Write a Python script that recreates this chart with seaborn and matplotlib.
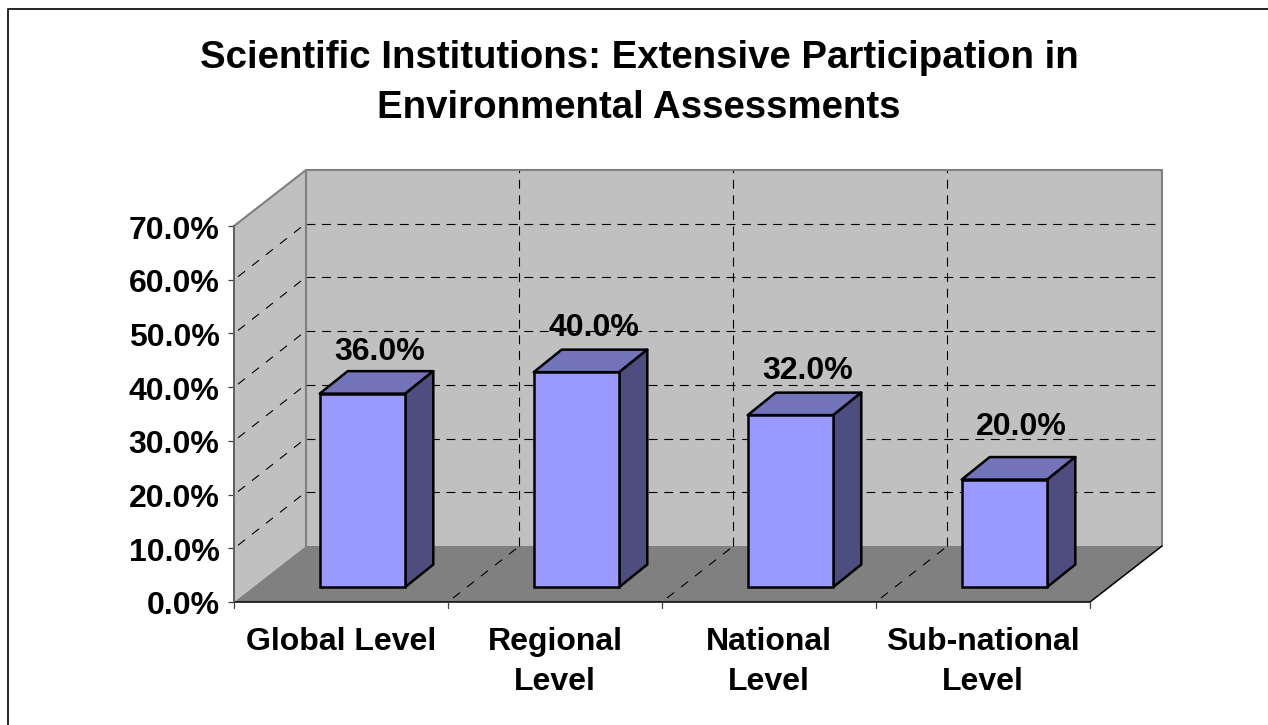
import numpy as np
import pandas as pd
import matplotlib
matplotlib.use("Agg")
import matplotlib.pyplot as plt
from matplotlib.lines import Line2D
from matplotlib.patches import Polygon
from matplotlib.transforms import ScaledTranslation
import seaborn as sns

categories = ["Global Level", "Regional\nLevel", "National\nLevel", "Sub-national\nLevel"]
values = [36.0, 40.0, 32.0, 20.0]
y_ticks = [0, 10, 20, 30, 40, 50, 60, 70]

W, H = 1268, 725
DPI = 100
# front plane of the chart box, in pixels
LEFT, RIGHT, BOTTOM, TOP = 234, 1090, 602, 226
DEPTH_X, DEPTH_Y = 72, 56      # wall depth
BAR_X, BAR_Y = 21.5, 15        # bar front face offset from front plane
BAR_DX, BAR_DY = 28, 22.5      # bar depth
label_lift = [27, 29, 29, 38]  # excel puts the value labels unevenly

sns.set_theme(style="white")
plt.rcParams["font.family"] = ["Liberation Sans", "DejaVu Sans"]

df = pd.DataFrame({"level": categories, "share": values})

fig = plt.figure(figsize=(W / DPI, H / DPI), dpi=DPI)
ax = fig.add_axes([LEFT / W, 1 - BOTTOM / H, (RIGHT - LEFT) / W, (BOTTOM - TOP) / H])
sns.barplot(data=df, x="level", y="share", color="#9999FF", width=0.4, saturation=1,
            edgecolor="black", linewidth=1.8, ax=ax, zorder=5)
ax.set_xlim(-0.5, 3.5)
ax.set_ylim(0, 70)
ax.patch.set_alpha(0)
ax.set_xlabel("")
ax.set_ylabel("")
for s in ax.spines.values():
    s.set_visible(False)


def shifted(px, py):
    # data transform moved by some pixels on the figure
    return ax.transData + ScaledTranslation(px / DPI, py / DPI, fig.dpi_scale_trans)


def poly(points, trans, **kw):
    p = Polygon(points, closed=True, transform=trans, clip_on=False, **kw)
    ax.add_patch(p)
    return p


x0, x1 = ax.get_xlim()
y0, y1 = ax.get_ylim()
front = shifted(0, 0)
to_px = ax.transData.transform


def skew(x, y, px, py):
    # point of the front plane moved px, py pixels, back in data units
    a = to_px((x, y)) + np.array([px, py])
    return ax.transData.inverted().transform(a)


# walls and floor
poly([(x0, y0), skew(x0, y0, DEPTH_X, DEPTH_Y), skew(x0, y1, DEPTH_X, DEPTH_Y), (x0, y1)], front,
     facecolor="#C0C0C0", edgecolor="none", zorder=1)
poly([skew(x0, y0, DEPTH_X, DEPTH_Y), skew(x1, y0, DEPTH_X, DEPTH_Y),
      skew(x1, y1, DEPTH_X, DEPTH_Y), skew(x0, y1, DEPTH_X, DEPTH_Y)], front,
     facecolor="#C0C0C0", edgecolor="none", zorder=1)
poly([(x0, y0), (x1, y0), skew(x1, y0, DEPTH_X, DEPTH_Y), skew(x0, y0, DEPTH_X, DEPTH_Y)], front,
     facecolor="#808080", edgecolor="none", zorder=1.5)

# dashed grid on both walls and the floor
dash = dict(color="black", lw=0.8, clip_on=False, zorder=2)
for t in y_ticks[1:-1]:
    a = skew(x0, t, 4, 3)
    b = skew(x0, t, DEPTH_X - 3, DEPTH_Y - 2)
    ax.plot([a[0], b[0]], [a[1], b[1]], dashes=(8, 8), **dash)
    a = skew(x0, t, DEPTH_X, DEPTH_Y)
    b = skew(x1, t, DEPTH_X, DEPTH_Y)
    ax.plot([a[0], b[0]], [a[1], b[1]], dashes=(8, 6), **dash)
for i in range(1, len(categories)):
    xc = x0 + i
    a = skew(xc, y0, 5, 4)
    b = skew(xc, y0, DEPTH_X - 3, DEPTH_Y - 2)
    ax.plot([a[0], b[0]], [a[1], b[1]], dashes=(8, 8), **dash)
    a = skew(xc, y0, DEPTH_X - 1, DEPTH_Y)
    b = skew(xc, y1, DEPTH_X - 1, DEPTH_Y)
    ax.plot([a[0], b[0]], [a[1], b[1]], dashes=(8, 6), **dash)

# gray edges of the walls go over the grid
edge = dict(color="#808080", lw=1.5, clip_on=False, zorder=2.5)
bl = skew(x0, y0, DEPTH_X, DEPTH_Y)
tl = skew(x0, y1, DEPTH_X, DEPTH_Y)
tr = skew(x1, y1, DEPTH_X, DEPTH_Y)
br = skew(x1, y0, DEPTH_X, DEPTH_Y)
ax.plot([x0, tl[0], tr[0], br[0]], [y1, tl[1], tr[1], br[1]], **edge)
ax.plot([bl[0], tl[0]], [bl[1], tl[1]], **edge)
ax.plot([x0, x1, br[0]], [y0, y0, br[1]], color="black", lw=1.1, clip_on=False, zorder=2.6)

# 3d bars, built from the seaborn patches
bar_trans = shifted(BAR_X, BAR_Y)
for bar, val, lift in zip(ax.patches[:len(values)], values, label_lift):
    bar.set_transform(bar_trans)
    bar.set_clip_on(False)
    bx0, bx1 = bar.get_x(), bar.get_x() + bar.get_width()
    poly([(bx0, val), (bx1, val), skew(bx1, val, BAR_DX, BAR_DY), skew(bx0, val, BAR_DX, BAR_DY)],
         bar_trans, facecolor="#7373B9", edgecolor="black", linewidth=1.8, joinstyle="round", zorder=4)
    poly([(bx1, 0), skew(bx1, 0, BAR_DX, BAR_DY), skew(bx1, val, BAR_DX, BAR_DY), (bx1, val)],
         bar_trans, facecolor="#4D4D7F", edgecolor="black", linewidth=1.8, joinstyle="round", zorder=4)
    tx = (bx0 + bx1) / 2
    ax.annotate(f"{val:.1f}%", xy=(tx, val), xycoords=bar_trans, xytext=(17, lift), textcoords="offset pixels",
                ha="center", va="bottom", fontsize=23, fontweight="bold", color="black", zorder=6,
                annotation_clip=False)

# ticks and labels
ax.set_yticks(y_ticks)
ax.set_yticklabels([f"{t:.1f}%" for t in y_ticks], fontsize=23, fontweight="bold", color="black")
ax.set_xticks(np.arange(len(categories)))
ax.set_xticklabels(categories, fontsize=23, fontweight="bold", color="black", linespacing=1.45, va="top")
ax.tick_params(axis="x", length=0, pad=18)
ax.tick_params(axis="y", left=True, length=4.5, width=0.9, color="#404040", pad=6)
for lbl in ax.get_yticklabels():
    lbl.set_transform(lbl.get_transform() + ScaledTranslation(0, -1 / DPI, fig.dpi_scale_trans))
ax.plot([x0, x0], [y0, y1], color="#606060", lw=1.4, clip_on=False, zorder=3)
for i in range(len(categories) + 1):
    ax.plot([x0 + i, x0 + i], [y0, skew(x0, y0, 0, -6)[1]], color="#404040", lw=0.9, clip_on=False, zorder=3)

fig.text(639 / W, 1 - 83 / H, "Scientific Institutions: Extensive Participation in\nEnvironmental Assessments",
         ha="center", va="center", fontsize=27.6, fontweight="bold", color="black", linespacing=1.48)

# chart frame, only top and left edges fall inside the picture
frame_x, frame_y = 8 / W, 1 - 9 / H
fig.add_artist(Line2D([1, frame_x, frame_x], [frame_y, frame_y, 0], transform=fig.transFigure,
                      color="black", lw=1.2))

fig.savefig("out.png", dpi=DPI, facecolor="white")
